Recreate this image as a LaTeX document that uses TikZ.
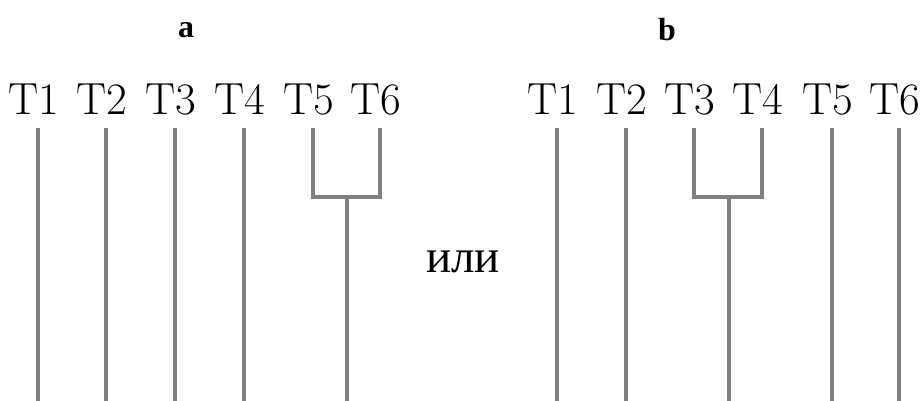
\documentclass[tikz,border=0pt]{standalone}
\usepackage{fontspec}
\setmainfont{Liberation Serif}
\newfontfamily\lmfont{Latin Modern Roman}
\tikzset{
  tlabel/.style={inner sep=0pt, anchor=base, font=\lmfont\fontsize{45}{50}\selectfont},
  branch/.style={draw=gray, line width=3.3pt},
  panel/.style={inner sep=0pt, font=\bfseries\fontsize{32}{36}\selectfont},
}
\begin{document}
\begin{tikzpicture}[x=1pt,y=-1pt]
\useasboundingbox (0,0) rectangle (924,401);
% panel titles
\node[panel] (pa) at (186,30) {a};
\node[panel] (pb) at (667,30) {b};
\node[inner sep=0pt, font=\fontsize{47}{50}\selectfont] (or) at (463,262) {или};
% panel a
\foreach \i/\x in {1/38,2/106,3/175,4/244,5/313,6/380}{
  \node[tlabel] (a\i) at (\x-4,115) {T\i};
  \coordinate (at\i) at (\x,128);
  \coordinate (ab\i) at (\x,412);
}
\foreach \i in {1,2,3,4}{ \draw[branch] (at\i) -- (ab\i); }
\coordinate (aj) at (347,197);
\coordinate (ajb) at (347,412);
\draw[branch] (at5) |- (aj) -| (at6);
\draw[branch] (aj) -- (ajb);
% panel b
\foreach \i/\x in {1/557,2/626,3/694,4/762,5/832,6/899}{
  \node[tlabel] (b\i) at (\x-4,115) {T\i};
  \coordinate (bt\i) at (\x,128);
  \coordinate (bb\i) at (\x,412);
}
\foreach \i in {1,2,5,6}{ \draw[branch] (bt\i) -- (bb\i); }
\coordinate (bj) at (729,197);
\coordinate (bjb) at (729,412);
\draw[branch] (bt3) |- (bj) -| (bt4);
\draw[branch] (bj) -- (bjb);
\end{tikzpicture}
\end{document}
